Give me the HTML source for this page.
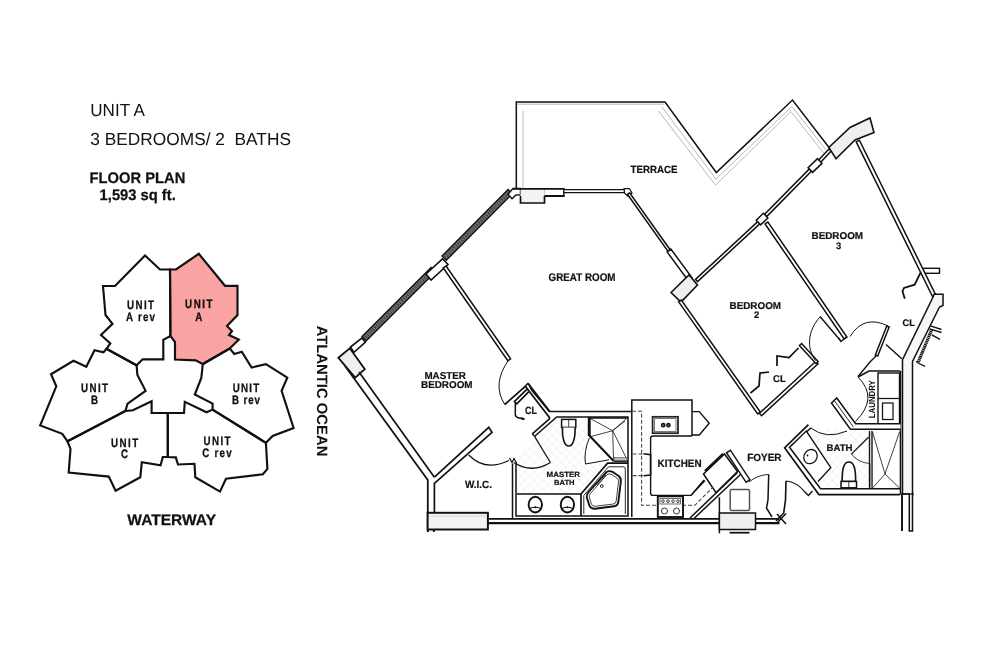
<!DOCTYPE html>
<html lang="en"><head><meta charset="utf-8"><title>Unit A Floor Plan</title>
<style>
html,body{margin:0;padding:0;background:#fff}
body{width:1000px;height:666px;overflow:hidden}
svg{display:block}
svg text{font-family:"Liberation Sans",sans-serif;text-rendering:geometricPrecision}
svg{will-change:transform}
</style></head><body>
<svg width="1000" height="666" viewBox="0 0 1000 666" stroke-linejoin="miter" stroke-linecap="butt">
<rect width="1000" height="666" fill="#fff"/>
<polygon points="170.0,269.5 176.0,269.5 198.8,253.8 225.0,285.8 237.5,285.8 237.5,315.0 227.0,326.0 232.0,331.0 229.0,335.0 238.8,339.5 229.8,348.5 202.6,364.0 195.7,360.4 175.0,359.5 175.0,342.0 170.4,336.0" fill="#f9a3a3" stroke="#111" stroke-width="2.15" stroke-linejoin="miter"/>
<polygon points="170.0,269.5 160.0,269.5 145.0,255.5 115.0,286.0 103.0,286.0 105.5,315.0 112.5,323.8 101.0,335.0 110.3,343.5 106.5,348.8 136.6,365.3 142.6,359.3 163.3,359.3 163.3,339.8 170.4,336.0" fill="none" stroke="#111" stroke-width="2.15" />
<polygon points="106.5,348.8 103.5,352.2 94.5,350.3 86.3,366.8 73.5,360.8 51.0,374.3 56.3,386.3 40.2,425.4 62.3,433.8 67.5,441.3 125.3,411.0 127.6,403.6 145.6,390.8 137.4,375.0 136.6,365.3" fill="none" stroke="#111" stroke-width="2.15" />
<polygon points="67.5,441.3 70.5,448.8 68.7,472.5 108.8,476.6 115.6,490.8 140.3,477.3 141.8,462.3 160.6,465.3 162.8,457.0 167.8,457.0 167.8,413.0 151.6,413.0 151.6,401.3 132.9,410.3 125.3,411.0" fill="none" stroke="#111" stroke-width="2.15" />
<polygon points="167.8,413.0 184.0,413.0 184.8,401.8 206.5,412.3 212.6,409.6 265.9,442.8 267.4,469.0 262.9,474.3 226.0,478.8 220.0,491.6 195.3,477.3 194.5,463.8 178.0,464.5 175.8,457.4 167.8,457.0" fill="none" stroke="#111" stroke-width="2.15" />
<polygon points="229.8,348.5 234.3,354.0 241.8,351.8 251.6,367.5 265.9,364.2 287.3,377.7 281.6,390.8 293.6,428.0 272.6,436.0 265.9,442.8 212.6,409.6 212.6,403.6 194.8,394.5 201.3,378.0 202.8,364.2" fill="none" stroke="#111" stroke-width="2.15" />
<text transform="translate(140.5,308.8) scale(0.8,1)" font-size="12.2" font-weight="bold" text-anchor="middle" fill="#111" stroke="#111" stroke-width="0.3" textLength="33.8" lengthAdjust="spacing">UNIT</text>
<text transform="translate(140.5,321.3) scale(0.8,1)" font-size="12.2" font-weight="bold" text-anchor="middle" fill="#111" stroke="#111" stroke-width="0.3" textLength="36.2" lengthAdjust="spacing">A rev</text>
<text transform="translate(198.8,308.2) scale(0.8,1)" font-size="12.2" font-weight="bold" text-anchor="middle" fill="#111" stroke="#111" stroke-width="0.3" textLength="34.4" lengthAdjust="spacing">UNIT</text>
<text transform="translate(198.8,320.6) scale(0.8,1)" font-size="12.2" font-weight="bold" text-anchor="middle" fill="#111" stroke="#111" stroke-width="0.3">A</text>
<text transform="translate(94.5,392.4) scale(0.8,1)" font-size="12.2" font-weight="bold" text-anchor="middle" fill="#111" stroke="#111" stroke-width="0.3" textLength="33.8" lengthAdjust="spacing">UNIT</text>
<text transform="translate(94.5,403.7) scale(0.8,1)" font-size="12.2" font-weight="bold" text-anchor="middle" fill="#111" stroke="#111" stroke-width="0.3">B</text>
<text transform="translate(124.6,446.6) scale(0.8,1)" font-size="12.2" font-weight="bold" text-anchor="middle" fill="#111" stroke="#111" stroke-width="0.3" textLength="33.8" lengthAdjust="spacing">UNIT</text>
<text transform="translate(124.6,457.9) scale(0.8,1)" font-size="12.2" font-weight="bold" text-anchor="middle" fill="#111" stroke="#111" stroke-width="0.3">C</text>
<text transform="translate(246.0,392.4) scale(0.8,1)" font-size="12.2" font-weight="bold" text-anchor="middle" fill="#111" stroke="#111" stroke-width="0.3" textLength="33.1" lengthAdjust="spacing">UNIT</text>
<text transform="translate(246.0,403.9) scale(0.8,1)" font-size="12.2" font-weight="bold" text-anchor="middle" fill="#111" stroke="#111" stroke-width="0.3" textLength="35.0" lengthAdjust="spacing">B rev</text>
<text transform="translate(217.0,445.1) scale(0.8,1)" font-size="12.2" font-weight="bold" text-anchor="middle" fill="#111" stroke="#111" stroke-width="0.3" textLength="33.8" lengthAdjust="spacing">UNIT</text>
<text transform="translate(217.0,457.1) scale(0.8,1)" font-size="12.2" font-weight="bold" text-anchor="middle" fill="#111" stroke="#111" stroke-width="0.3" textLength="36.6" lengthAdjust="spacing">C rev</text>
<text x="90.3" y="115.6" font-size="17.6" font-weight="normal" text-anchor="start" fill="#111" textLength="54.7" lengthAdjust="spacingAndGlyphs" >UNIT A</text>
<text x="90.3" y="144.7" font-size="17.6" font-weight="normal" text-anchor="start" fill="#111" textLength="200.7" lengthAdjust="spacingAndGlyphs" >3 BEDROOMS/ 2&#160; BATHS</text>
<text x="89.6" y="183.1" font-size="15.3" font-weight="bold" text-anchor="start" fill="#111" textLength="95.8" lengthAdjust="spacingAndGlyphs" stroke="#111" stroke-width="0.25">FLOOR PLAN</text>
<text x="99.6" y="200.4" font-size="15.3" font-weight="bold" text-anchor="start" fill="#111" textLength="76.2" lengthAdjust="spacingAndGlyphs" stroke="#111" stroke-width="0.25">1,593 sq ft.</text>
<text x="171.7" y="524.9" font-size="15.4" font-weight="bold" text-anchor="middle" fill="#111" textLength="88.7" lengthAdjust="spacingAndGlyphs" stroke="#111" stroke-width="0.25">WATERWAY</text>
<text transform="translate(317.4,391) rotate(90)" font-size="15" font-weight="bold" text-anchor="middle" fill="#111" textLength="130.7" lengthAdjust="spacingAndGlyphs">ATLANTIC OCEAN</text>
<defs><pattern id="tile" width="6.4" height="6.4" patternUnits="userSpaceOnUse" patternTransform="rotate(45)"><path d="M0,0 H6.4 M0,0 V6.4" stroke="#e9e9e9" stroke-width="0.9" fill="none"/></pattern></defs>
<polygon points="513.0,462.0 534.7,436.6 556.7,416.9 588.0,416.9 588.0,437.0 584.0,452.0 586.0,464.0 607.0,463.0 581.0,494.0 516.0,494.0" fill="url(#tile)" stroke="none" stroke-width="0" />
<polygon points="789.5,447.3 810.8,428.0 853.0,430.0 869.5,431.0 869.5,488.8 820.5,488.8" fill="url(#tile)" stroke="none" stroke-width="0" />
<polyline points="516.3,188.0 516.3,102.0 665.0,102.0 716.3,172.5 792.5,100.0 829.0,147.5" fill="none" stroke="#111" stroke-width="1.5" />
<polyline points="523.0,187.5 523.0,111.0" fill="none" stroke="#aaa" stroke-width="0.8" />
<line x1="517.0" y1="104.2" x2="664.0" y2="104.2" stroke="#999" stroke-width="0.7" />
<polyline points="661.5,106.5 716.0,179.0 792.0,106.5 826.5,150.5" fill="none" stroke="#999" stroke-width="0.7" />
<polyline points="658.5,111.0 715.5,185.2 791.0,111.5 823.5,153.0" fill="none" stroke="#999" stroke-width="0.7" />
<polygon points="508.1,189.5 442.1,256.0 446.3,260.2 512.3,193.7" fill="#707070" stroke="#111" stroke-width="1.5" />
<line x1="510.2" y1="191.6" x2="444.2" y2="258.1" stroke="#3a3a3a" stroke-width="2.6" stroke-dasharray="1.6 1.1"/>
<line x1="510.2" y1="191.6" x2="444.2" y2="258.1" stroke="#aaa" stroke-width="1.0" stroke-dasharray="0.9 2.3"/>
<polygon points="431.1,267.5 362.1,336.5 366.3,340.7 435.3,271.7" fill="#707070" stroke="#111" stroke-width="1.5" />
<line x1="433.2" y1="269.6" x2="364.2" y2="338.6" stroke="#3a3a3a" stroke-width="2.6" stroke-dasharray="1.6 1.1"/>
<line x1="433.2" y1="269.6" x2="364.2" y2="338.6" stroke="#aaa" stroke-width="1.0" stroke-dasharray="0.9 2.3"/>
<polygon points="513.0,188.5 520.5,188.5 520.5,194.8 516.0,195.0 512.0,198.8 508.0,194.3" fill="#fff" stroke="#111" stroke-width="1.4" />
<polygon points="426.0,274.0 442.5,258.8 448.0,264.5 431.0,280.0" fill="#fff" stroke="#111" stroke-width="1.6" />
<polygon points="350.5,347.0 361.8,338.0 365.4,342.2 354.0,352.4" fill="#fff" stroke="#111" stroke-width="1.6" />
<polygon points="338.4,357.8 349.8,348.2 364.8,369.2 355.2,377.7" fill="#efefef" stroke="#111" stroke-width="1.8" />
<polygon points="443.3,268.0 507.8,360.8 510.6,358.8 446.1,266.0" fill="#fff" stroke="#111" stroke-width="1.5" />
<polyline points="345.0,366.0 427.8,480.0 427.8,513.0" fill="none" stroke="#111" stroke-width="1.8" />
<polyline points="359.0,372.0 434.4,477.2" fill="none" stroke="#111" stroke-width="1.7" />
<polyline points="434.4,477.2 488.8,427.3 492.0,432.3 434.4,483.4 434.4,513.0" fill="none" stroke="#111" stroke-width="1.7" />
<line x1="427.9" y1="512.0" x2="427.9" y2="532.0" stroke="#111" stroke-width="1.9" />
<line x1="433.8" y1="528.0" x2="433.8" y2="532.0" stroke="#111" stroke-width="1.9" />
<rect x="427.6" y="512.8" width="60.3" height="16.7" fill="#f3f3f3" stroke="#111" stroke-width="2.0" />
<line x1="429.0" y1="516.0" x2="486.5" y2="516.0" stroke="#ccc" stroke-width="0.8" />
<line x1="488.0" y1="518.8" x2="779.5" y2="518.8" stroke="#111" stroke-width="1.7" />
<line x1="488.0" y1="523.2" x2="779.5" y2="523.2" stroke="#111" stroke-width="2.2" />
<rect x="520.5" y="188.8" width="24.0" height="14.2" fill="#f3f3f3" stroke="none" stroke-width="0" />
<polyline points="520.5,196.0 520.5,203.0 544.5,203.0 544.5,196.0" fill="none" stroke="#111" stroke-width="1.7" />
<line x1="544.5" y1="189.0" x2="544.5" y2="196.0" stroke="#bbb" stroke-width="0.8" />
<line x1="513.0" y1="188.9" x2="564.5" y2="188.9" stroke="#111" stroke-width="1.7" />
<line x1="544.5" y1="196.0" x2="564.5" y2="196.0" stroke="#111" stroke-width="2.0" />
<line x1="563.8" y1="188.2" x2="563.8" y2="197.0" stroke="#111" stroke-width="1.4" />
<line x1="563.8" y1="189.6" x2="626.0" y2="189.6" stroke="#111" stroke-width="1.38" />
<line x1="563.8" y1="192.6" x2="624.0" y2="192.6" stroke="#111" stroke-width="1.38" />
<polygon points="624.0,188.5 629.5,188.5 632.0,193.0 628.0,196.5 624.5,193.0" fill="#fff" stroke="#111" stroke-width="1.25" />
<polygon points="627.4,194.3 667.9,251.3 670.1,249.7 629.6,192.7" fill="#fff" stroke="#111" stroke-width="1.5" />
<polygon points="667.1,251.9 688.1,280.4 691.9,277.6 670.9,249.1" fill="#fff" stroke="#111" stroke-width="1.5" />
<polygon points="671.0,292.5 689.0,275.0 697.5,285.0 681.0,302.0" fill="#efefef" stroke="#111" stroke-width="1.62" />
<polygon points="697.5,281.6 760.0,223.6 758.0,221.4 695.5,279.4" fill="#fff" stroke="#111" stroke-width="1.5" />
<polygon points="766.6,216.6 813.1,169.6 810.9,167.4 764.4,214.4" fill="#fff" stroke="#111" stroke-width="1.5" />
<rect x="-5.0" y="-3.2" width="10.0" height="6.5" fill="#fff" stroke="#111" stroke-width="1.5" transform="translate(762.0,219.0) rotate(-44.0)"/>
<polygon points="819.1,164.0 831.1,151.0 828.9,149.0 816.9,162.0" fill="#fff" stroke="#111" stroke-width="1.5" />
<rect x="-6.5" y="-3.2" width="13.0" height="6.5" fill="#fff" stroke="#111" stroke-width="1.5" transform="translate(815.0,165.5) rotate(-44.0)"/>
<polygon points="828.8,147.5 850.0,127.5 870.0,118.0 874.0,132.5 855.0,140.0 836.0,158.8" fill="#efefef" stroke="#111" stroke-width="1.62" />
<rect x="921.0" y="268.3" width="18.5" height="5.0" fill="#fff" stroke="#111" stroke-width="1.4" />
<polygon points="856.2,141.8 932.4,296.3 935.6,294.7 859.4,140.2" fill="#fff" stroke="#111" stroke-width="1.5" />
<polygon points="765.1,224.0 844.1,339.0 846.9,337.0 767.9,222.0" fill="#fff" stroke="#111" stroke-width="1.5" />
<polyline points="847.0,336.5 841.0,341.5 838.5,338.0" fill="none" stroke="#111" stroke-width="1.38" />
<polygon points="678.7,301.9 757.7,413.9 760.3,412.1 681.3,300.1" fill="#fff" stroke="#111" stroke-width="1.5" />
<polygon points="761.6,415.7 818.1,363.7 815.9,361.3 759.4,413.3" fill="#fff" stroke="#111" stroke-width="1.5" />
<polygon points="818.1,361.5 801.6,343.5 799.4,345.5 815.9,363.5" fill="#fff" stroke="#111" stroke-width="1.5" />
<polyline points="798.5,348.0 789.0,357.5 777.0,356.0 777.0,366.0" fill="none" stroke="#111" stroke-width="1.7" />
<polyline points="769.0,372.0 760.0,373.0 759.0,386.0 750.5,393.0" fill="none" stroke="#111" stroke-width="1.7" />
<line x1="840.0" y1="340.0" x2="820.0" y2="316.5" stroke="#111" stroke-width="1.38" />
<path d="M820,317 C808,330 806,348 815.5,360.5" fill="none" stroke="#111" stroke-width="1.0" />
<polygon points="877.7,356.0 889.2,327.0 886.8,326.0 875.3,355.0" fill="#fff" stroke="#111" stroke-width="1.5" />
<path d="M850,336.5 Q864,314 888,326" fill="none" stroke="#111" stroke-width="1.0" />
<line x1="886.0" y1="344.6" x2="901.8" y2="358.8" stroke="#111" stroke-width="1.4" />
<polyline points="876.0,356.0 870.0,362.0 858.0,376.5" fill="none" stroke="#111" stroke-width="1.38" />
<polyline points="920.6,272.7 914.6,284.7 904.0,288.0 902.5,291.3 904.8,298.8" fill="none" stroke="#111" stroke-width="1.8" />
<polygon points="934.0,294.3 943.0,294.3 943.0,305.5 939.5,307.0 912.5,361.5 912.5,531.0 909.3,531.0 909.3,494.0 902.5,494.0 902.5,359.6 933.3,296.5" fill="#f6f6f6" stroke="#111" stroke-width="1.5" />
<line x1="902.0" y1="494.0" x2="902.0" y2="531.0" stroke="#111" stroke-width="1.9" />
<line x1="900.0" y1="494.0" x2="914.0" y2="494.0" stroke="#111" stroke-width="1.25" />
<line x1="918.3" y1="362.0" x2="931.8" y2="329.5" stroke="#111" stroke-width="3.2" stroke-dasharray="1.3 0.5"/>
<polyline points="916.0,361.5 919.0,363.5 925.0,366.3" fill="none" stroke="#111" stroke-width="1.3" />
<line x1="930.3" y1="325.8" x2="941.5" y2="329.5" stroke="#111" stroke-width="1.4" />
<line x1="929.5" y1="328.8" x2="941.5" y2="332.5" stroke="#111" stroke-width="1.4" />
<line x1="931.8" y1="334.8" x2="940.0" y2="339.3" stroke="#111" stroke-width="1.4" />
<polyline points="858.0,377.0 869.0,371.0 900.0,371.0" fill="none" stroke="#111" stroke-width="1.62" />
<rect x="878.0" y="373.0" width="21.5" height="51.0" fill="#fff" stroke="#111" stroke-width="1.38" />
<line x1="878.0" y1="398.5" x2="899.5" y2="398.5" stroke="#111" stroke-width="1.25" />
<rect x="882.5" y="403.0" width="10.5" height="16.5" fill="none" stroke="#111" stroke-width="1.25" />
<line x1="900.5" y1="371.0" x2="900.5" y2="494.0" stroke="#111" stroke-width="1.6" />
<polyline points="900.5,423.8 855.6,423.8 836.7,398.0 831.5,403.0 850.4,429.2 900.5,429.2" fill="#fff" stroke="#111" stroke-width="1.5" />
<line x1="834.2" y1="400.5" x2="853.3" y2="426.8" stroke="#111" stroke-width="0.9" />
<path d="M858,377 Q879,398 855.5,421.5" fill="none" stroke="#111" stroke-width="1.0" />
<text transform="translate(874.6,399.2) rotate(-90)" font-size="9" font-weight="bold" text-anchor="middle" fill="#111" textLength="38" lengthAdjust="spacingAndGlyphs">LAUNDRY</text>
<polyline points="808.4,424.7 784.6,447.8 818.9,494.6 900.0,494.6" fill="none" stroke="#111" stroke-width="1.62" />
<polyline points="810.8,428.0 789.5,447.3 820.5,488.8 900.0,488.8" fill="none" stroke="#111" stroke-width="1.5" />
<polyline points="805.0,492.0 808.4,495.5 812.5,491.0" fill="none" stroke="#111" stroke-width="1.38" />
<polygon points="791.0,446.0 806.3,431.0 830.8,467.7 818.0,481.5" fill="#fff" stroke="none" stroke-width="0" />
<polyline points="791.0,446.0 806.3,431.0 830.8,467.7 818.0,481.5" fill="none" stroke="#111" stroke-width="1.38" />
<ellipse cx="810.5" cy="456.6" rx="6.4" ry="7.4" fill="#fff" stroke="#111" stroke-width="1.3" transform="rotate(35 810.5 456.6)"/>
<circle cx="807.5" cy="455.5" r="0.9" fill="#111"/>
<path d="M810.5,427.8 Q826,440 847,431" fill="none" stroke="#111" stroke-width="1.0" />
<path d="M842.2,481.5 C842,468 844,462 848.9,462 C853.8,462 855.8,468 855.6,481.5 Z" fill="#fff" stroke="#111" stroke-width="1.62" />
<rect x="841.0" y="481.4" width="15.5" height="6.4" fill="#fff" stroke="#111" stroke-width="1.5" />
<line x1="848.8" y1="481.4" x2="848.8" y2="487.8" stroke="#111" stroke-width="0.8" />
<line x1="869.5" y1="431.0" x2="869.5" y2="488.8" stroke="#111" stroke-width="1.38" />
<line x1="872.0" y1="431.0" x2="872.0" y2="488.8" stroke="#111" stroke-width="1.38" />
<line x1="871.0" y1="463.0" x2="871.0" y2="487.0" stroke="#777" stroke-width="1.6" />
<polyline points="872.5,432.0 885.0,474.0 899.5,432.0" fill="none" stroke="#111" stroke-width="0.8" />
<polyline points="872.5,488.0 885.0,474.0 899.5,488.0" fill="none" stroke="#111" stroke-width="0.8" />
<line x1="868.5" y1="437.3" x2="851.4" y2="454.1" stroke="#111" stroke-width="1.25" />
<path d="M851.4,454.1 Q858,462.5 869.3,463.5" fill="none" stroke="#111" stroke-width="0.8" />
<polygon points="726.6,452.8 746.1,482.3 749.9,479.7 730.4,450.2" fill="#fff" stroke="#111" stroke-width="1.5" />
<polygon points="703.5,474.0 724.5,454.0 737.5,471.5 716.0,492.7" fill="#fff" stroke="#111" stroke-width="1.5" />
<line x1="704.8" y1="471.0" x2="723.0" y2="453.6" stroke="#111" stroke-width="2.0" />
<line x1="737.5" y1="472.5" x2="690.0" y2="518.0" stroke="#111" stroke-width="1.5" />
<line x1="740.5" y1="474.5" x2="694.0" y2="518.5" stroke="#111" stroke-width="1.5" />
<polyline points="691.0,495.4 705.0,480.5" fill="none" stroke="#111" stroke-width="1.25" />
<rect x="730.2" y="489.4" width="19.3" height="21.1" fill="#fff" stroke="#555" stroke-width="1.5" rx="1.5"/>
<line x1="719.4" y1="497.2" x2="719.4" y2="533.3" stroke="#111" stroke-width="1.5" />
<rect x="719.4" y="513.0" width="36.1" height="16.5" fill="#efefef" stroke="#111" stroke-width="1.5" />
<line x1="729.6" y1="532.7" x2="749.5" y2="532.7" stroke="#111" stroke-width="1.75" />
<path d="M748.9,482.2 Q757,475 768.7,474.4" fill="none" stroke="#111" stroke-width="0.9" />
<path d="M768.7,474.4 L768,500 L766.5,508 L772,517" fill="none" stroke="#111" stroke-width="1.5" />
<path d="M786,481 L785.5,500 L783.7,513 L776,521" fill="none" stroke="#111" stroke-width="1.62" />
<path d="M786,481 Q797,482 805.3,492.4" fill="none" stroke="#111" stroke-width="1.25" />
<path d="M777,514 L786,524 M786,513.5 L777,523" fill="none" stroke="#111" stroke-width="1.5" />
<polyline points="692.0,436.0 692.0,400.0 631.8,400.0 631.8,517.0" fill="none" stroke="#111" stroke-width="1.5" />
<path d="M692,436 L653,436 Q650.6,436 650.6,438.5 L650.6,493 Q650.6,495.4 653,495.4 L691,495.4 L704,480" fill="none" stroke="#111" stroke-width="1.38" />
<polyline points="692.0,411.6 699.3,411.6 709.2,423.3 699.3,435.0 692.0,435.0" fill="none" stroke="#111" stroke-width="1.38" />
<rect x="652.6" y="416.8" width="25.4" height="16.4" fill="#fff" stroke="#222" stroke-width="1.75" />
<rect x="654.6" y="418.6" width="21.4" height="12.8" fill="#fff" stroke="#555" stroke-width="0.8" />
<circle cx="663.2" cy="425.2" r="1.7" fill="#666" stroke="#111" stroke-width="1.3"/><circle cx="668.4" cy="425.2" r="1.7" fill="#666" stroke="#111" stroke-width="1.3"/>
<path d="M632,411.3 L641.6,411.3 L641.6,505.3 L694.8,505.3 L713,487" fill="none" stroke="#444" stroke-width="1.05" stroke-dasharray="4 2"/>
<path d="M632.6,454 L644,454 M632.6,475.6 L644,475.6" fill="none" stroke="#444" stroke-width="1.05" stroke-dasharray="4 2"/>
<path d="M643.5,453.8 L650.6,454.6 L650.6,475 L643.5,475.8" fill="none" stroke="#111" stroke-width="1.6" />
<rect x="657.8" y="496.3" width="25.2" height="20.7" fill="#fff" stroke="#111" stroke-width="1.9" />
<rect x="660.0" y="498.5" width="20.6" height="5.5" fill="none" stroke="#333" stroke-width="0.7" />
<circle cx="663" cy="501.2" r="1.3" fill="none" stroke="#111" stroke-width="0.8"/>
<circle cx="668" cy="501.2" r="1.3" fill="none" stroke="#111" stroke-width="0.8"/>
<circle cx="673" cy="501.2" r="1.3" fill="none" stroke="#111" stroke-width="0.8"/>
<circle cx="678" cy="501.2" r="1.3" fill="none" stroke="#111" stroke-width="0.8"/>
<circle cx="664.5" cy="511" r="3" fill="none" stroke="#222" stroke-width="0.9"/><circle cx="676.5" cy="511" r="3" fill="none" stroke="#222" stroke-width="0.9"/>
<polyline points="531.5,390.0 549.4,411.4 632.0,411.4" fill="none" stroke="#111" stroke-width="1.5" />
<polyline points="528.8,384.0 531.5,390.0" fill="none" stroke="#111" stroke-width="1.5" />
<polyline points="534.7,436.2 556.7,416.9 628.0,416.9 628.0,516.0 516.0,516.0 516.0,463.5" fill="none" stroke="#111" stroke-width="1.5" />
<polyline points="532.3,433.8 550.0,418.3" fill="none" stroke="#111" stroke-width="1.6" />
<line x1="532.3" y1="433.6" x2="534.7" y2="436.6" stroke="#111" stroke-width="1.38" />
<line x1="512.5" y1="463.5" x2="512.5" y2="518.0" stroke="#111" stroke-width="1.5" />
<polyline points="509.5,458.0 512.0,462.5 514.0,458.5 516.8,463.5" fill="none" stroke="#111" stroke-width="1.25" />
<line x1="534.7" y1="436.6" x2="550.4" y2="462.5" stroke="#111" stroke-width="1.25" />
<path d="M550.4,462.5 Q532,474 513.7,462.5" fill="none" stroke="#111" stroke-width="1.25" />
<path d="M468.8,455 Q485,472 508.8,460.5" fill="none" stroke="#111" stroke-width="1.25" />
<polyline points="528.0,383.3 549.6,411.4" fill="none" stroke="#111" stroke-width="1.8" />
<polyline points="525.3,386.3 550.0,418.3" fill="none" stroke="#111" stroke-width="1.8" />
<line x1="528.3" y1="383.0" x2="525.0" y2="386.6" stroke="#111" stroke-width="1.5" />
<line x1="504.8" y1="404.5" x2="525.3" y2="386.3" stroke="#111" stroke-width="1.8" />
<polyline points="526.8,389.3 514.5,401.5 516.8,403.8 528.6,391.8" fill="none" stroke="#111" stroke-width="1.7" />
<path d="M515.4,403 L515.3,415 Q516,417.5 519,418 L523.5,418.8" fill="none" stroke="#111" stroke-width="1.5" />
<line x1="521.0" y1="418.3" x2="524.5" y2="419.2" stroke="#111" stroke-width="2.0" />
<path d="M508.8,359.8 Q491.5,384 504.8,404.5" fill="none" stroke="#111" stroke-width="1.0" />
<rect x="561.6" y="419.4" width="14.2" height="8.0" fill="#fff" stroke="#111" stroke-width="1.5" />
<line x1="568.7" y1="419.4" x2="568.7" y2="427.4" stroke="#111" stroke-width="0.8" />
<path d="M562.5,427.4 C562,438 564.5,446 568.7,446 C573,446 575.5,438 575,427.4" fill="#fff" stroke="#111" stroke-width="1.62" />
<polyline points="588.5,436.0 588.5,418.0 628.0,418.0" fill="none" stroke="#111" stroke-width="1.4" />
<line x1="589.6" y1="418.0" x2="589.6" y2="436.0" stroke="#111" stroke-width="2.2" />
<line x1="613.6" y1="461.2" x2="628.0" y2="461.2" stroke="#111" stroke-width="1.4" />
<line x1="612.7" y1="430.7" x2="591.0" y2="419.0" stroke="#111" stroke-width="0.8" />
<line x1="612.7" y1="430.7" x2="626.0" y2="419.0" stroke="#111" stroke-width="0.8" />
<line x1="612.7" y1="430.7" x2="626.5" y2="458.5" stroke="#111" stroke-width="0.8" />
<line x1="612.7" y1="430.7" x2="613.5" y2="459.0" stroke="#111" stroke-width="0.8" />
<line x1="612.7" y1="430.7" x2="591.0" y2="436.5" stroke="#111" stroke-width="0.8" />
<line x1="612.7" y1="430.7" x2="625.0" y2="421.0" stroke="#111" stroke-width="0.8" />
<line x1="589.3" y1="435.5" x2="613.6" y2="461.0" stroke="#111" stroke-width="2.1" />
<path d="M589.3,438 Q583.5,452 585.5,464 L609,459.8" fill="none" stroke="#111" stroke-width="1.0" />
<rect x="614.5" y="457.3" width="12.5" height="3.1" fill="#bbb" stroke="#555" stroke-width="0.6" />
<polyline points="581.0,516.0 581.0,494.0 607.6,463.2 628.0,463.2" fill="none" stroke="#111" stroke-width="1.7" />
<path d="M583.8,514 L583.8,495.5 L608.5,466.8 L623.5,466.8 Q625.3,467 625.3,469 L625.3,514" fill="none" stroke="#111" stroke-width="0.9" />
<path d="M606.5,472 Q609.5,470.3 612.5,471.8 L619,476.3 Q621.2,478.3 620.8,482 L618.3,502 Q617.7,505.8 614,506.3 L595,508.7 Q590.5,508.9 589.2,505 L586.8,497.5 Q586.2,494.5 588.7,491.8 Z" fill="none" stroke="#111" stroke-width="1.9" />
<path d="M607,474.6 Q609.5,473.3 611.8,474.5 L617.3,478.3 Q618.8,479.6 618.5,482 L616.2,501 Q615.8,503.7 613.3,504 L595.2,506.3 Q592.3,506.4 591.4,504 L589.3,497.3 Q588.9,495.2 590.6,493.3 Z" fill="none" stroke="#111" stroke-width="0.8" />
<circle cx="601.8" cy="486" r="1.4" fill="#fff" stroke="#111" stroke-width="0.9"/>
<line x1="597.0" y1="485.0" x2="606.0" y2="475.0" stroke="#111" stroke-width="0.8" />
<line x1="516.8" y1="494.0" x2="581.0" y2="494.0" stroke="#111" stroke-width="1.38" />
<ellipse cx="535.3" cy="504.6" rx="6.7" ry="7.9" fill="#fff" stroke="#111" stroke-width="1.9"/>
<path d="M530.3,508.3 Q535.3,506.3 540.3,508.3" fill="none" stroke="#111" stroke-width="1.1" />
<circle cx="535.3" cy="507.3" r="1" fill="#111"/>
<ellipse cx="567.4" cy="504.6" rx="6.7" ry="7.9" fill="#fff" stroke="#111" stroke-width="1.9"/>
<path d="M562.4,508.3 Q567.4,506.3 572.4,508.3" fill="none" stroke="#111" stroke-width="1.1" />
<circle cx="567.4" cy="507.3" r="1" fill="#111"/>
<text x="654.0" y="173.0" font-size="10.4" font-weight="bold" text-anchor="middle" fill="#111" textLength="47.0" lengthAdjust="spacingAndGlyphs" stroke="#111" stroke-width="0.2">TERRACE</text>
<text x="582.0" y="280.5" font-size="11.1" font-weight="bold" text-anchor="middle" fill="#111" textLength="67.0" lengthAdjust="spacingAndGlyphs" stroke="#111" stroke-width="0.2">GREAT ROOM</text>
<text x="445.2" y="378.5" font-size="10" font-weight="bold" text-anchor="middle" fill="#111" textLength="41.5" lengthAdjust="spacingAndGlyphs" stroke="#111" stroke-width="0.2">MASTER</text>
<text x="446.8" y="387.8" font-size="10" font-weight="bold" text-anchor="middle" fill="#111" textLength="51.5" lengthAdjust="spacingAndGlyphs" stroke="#111" stroke-width="0.2">BEDROOM</text>
<text x="837.3" y="239.2" font-size="10" font-weight="bold" text-anchor="middle" fill="#111" textLength="51.5" lengthAdjust="spacingAndGlyphs" stroke="#111" stroke-width="0.2">BEDROOM</text>
<text x="838.5" y="248.5" font-size="9.4" font-weight="bold" text-anchor="middle" fill="#111" stroke="#111" stroke-width="0.2">3</text>
<text x="755.3" y="308.5" font-size="10" font-weight="bold" text-anchor="middle" fill="#111" textLength="51.5" lengthAdjust="spacingAndGlyphs" stroke="#111" stroke-width="0.2">BEDROOM</text>
<text x="756.5" y="317.8" font-size="9.4" font-weight="bold" text-anchor="middle" fill="#111" stroke="#111" stroke-width="0.2">2</text>
<text x="779.4" y="381.8" font-size="9.8" font-weight="bold" text-anchor="middle" fill="#111" textLength="12.8" lengthAdjust="spacingAndGlyphs" stroke="#111" stroke-width="0.2">CL</text>
<text x="908.7" y="325.9" font-size="9.6" font-weight="bold" text-anchor="middle" fill="#111" textLength="12.3" lengthAdjust="spacingAndGlyphs" stroke="#111" stroke-width="0.2">CL</text>
<text x="531.0" y="413.5" font-size="10.5" font-weight="bold" text-anchor="middle" fill="#111" textLength="12.0" lengthAdjust="spacingAndGlyphs" stroke="#111" stroke-width="0.2">CL</text>
<text x="478.5" y="487.5" font-size="10.4" font-weight="bold" text-anchor="middle" fill="#111" textLength="27.0" lengthAdjust="spacingAndGlyphs" stroke="#111" stroke-width="0.2">W.I.C.</text>
<text x="563.3" y="477.2" font-size="7.6" font-weight="bold" text-anchor="middle" fill="#111" textLength="33.5" lengthAdjust="spacingAndGlyphs" stroke="#111" stroke-width="0.2">MASTER</text>
<text x="564.3" y="484.7" font-size="7.4" font-weight="bold" text-anchor="middle" fill="#111" textLength="20.5" lengthAdjust="spacingAndGlyphs" stroke="#111" stroke-width="0.2">BATH</text>
<text x="679.6" y="467.2" font-size="10.7" font-weight="bold" text-anchor="middle" fill="#111" textLength="44.0" lengthAdjust="spacingAndGlyphs" stroke="#111" stroke-width="0.2">KITCHEN</text>
<text x="764.4" y="461.1" font-size="10.4" font-weight="bold" text-anchor="middle" fill="#111" textLength="34.4" lengthAdjust="spacingAndGlyphs" stroke="#111" stroke-width="0.2">FOYER</text>
<text x="839.5" y="450.5" font-size="9.6" font-weight="bold" text-anchor="middle" fill="#111" textLength="25.9" lengthAdjust="spacingAndGlyphs" stroke="#111" stroke-width="0.2">BATH</text>
</svg>
</body></html>
